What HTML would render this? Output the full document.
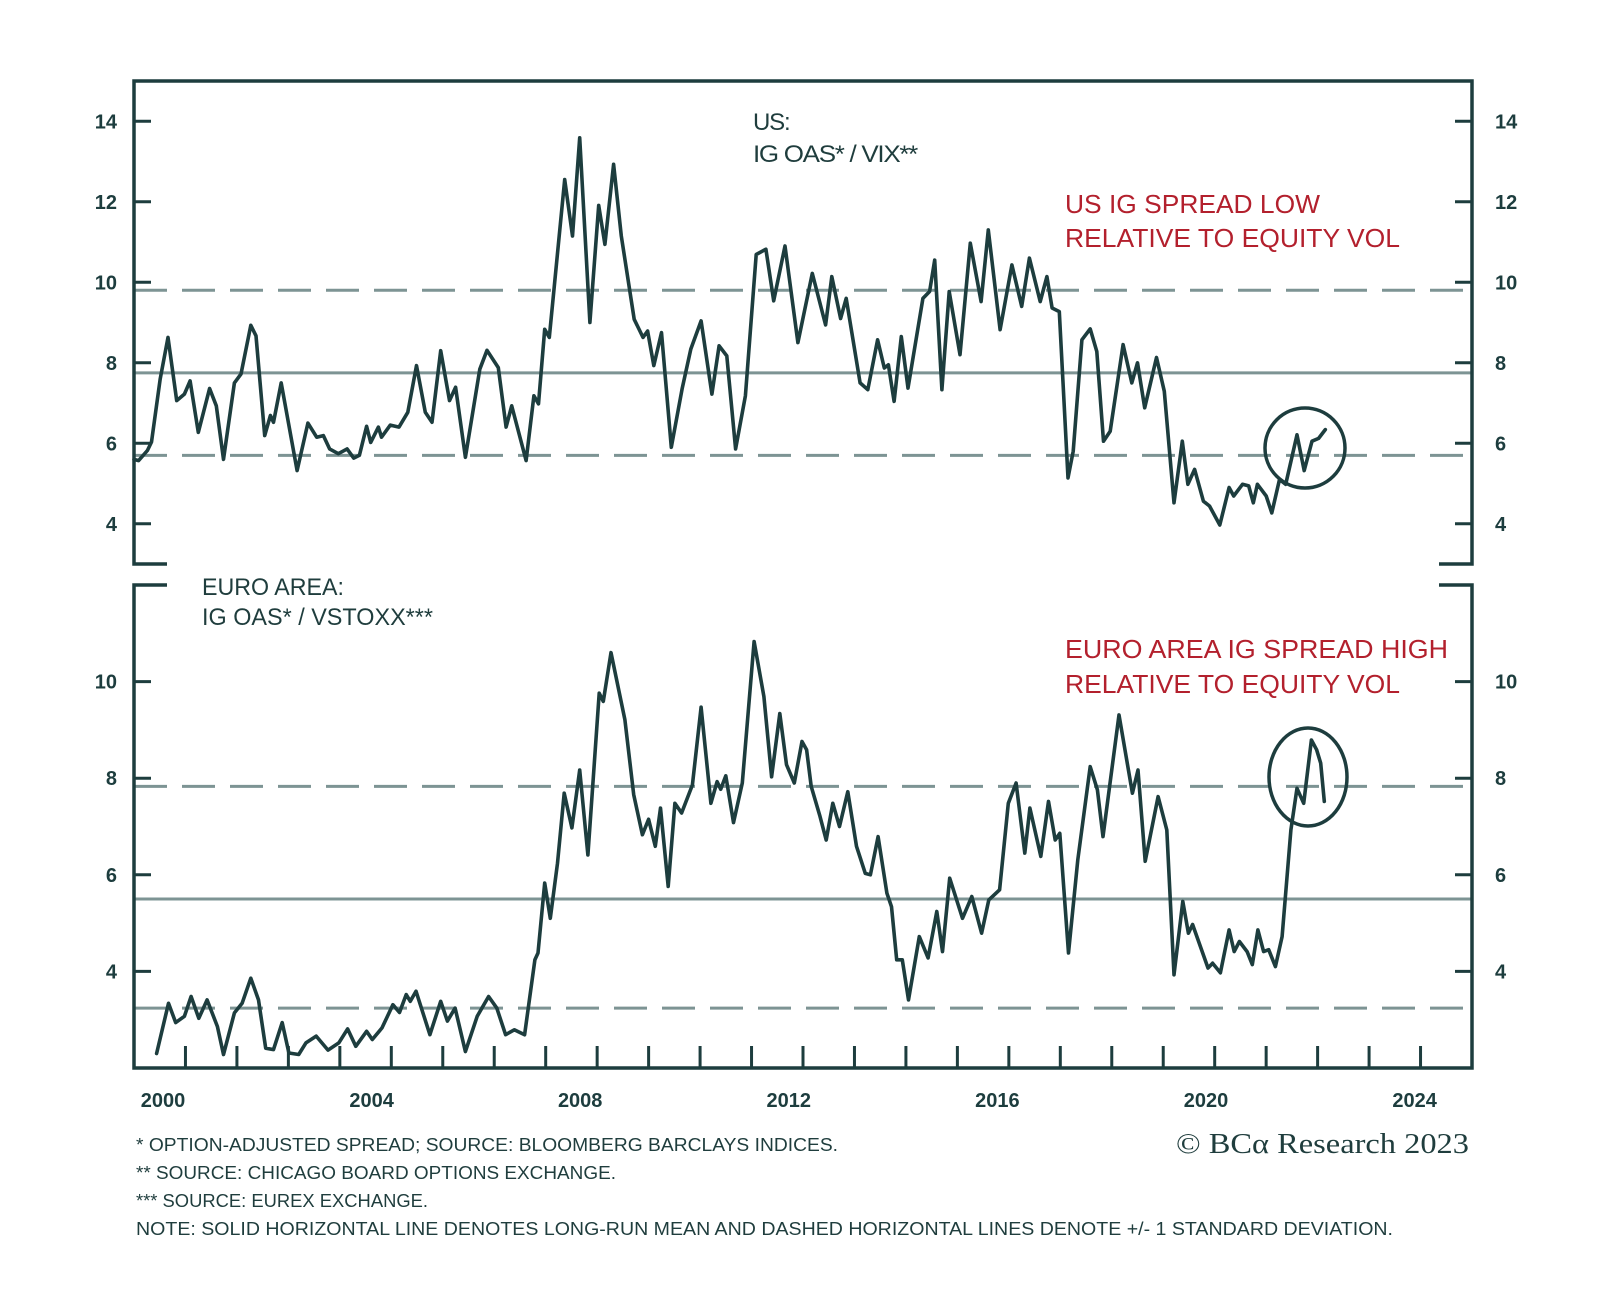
<!DOCTYPE html>
<html><head><meta charset="utf-8"><style>
html,body{margin:0;padding:0;background:#fff;}
svg{display:block;}
text{font-family:"Liberation Sans",sans-serif;}
</style></head><body>
<svg id="chart" width="1600" height="1298" viewBox="0 0 1600 1298" xmlns="http://www.w3.org/2000/svg">
<rect width="1600" height="1298" fill="#fff"/>
<g id="upper"></g>
<g id="lower"></g>
<g id="xaxis"></g>
<g fill="#1f3d3d" font-size="24" letter-spacing="-1.2">
<text x="753" y="130">US:</text>
<text x="753" y="162" textLength="164" lengthAdjust="spacingAndGlyphs">IG OAS* / VIX**</text>
</g>
<g fill="#b3202d" font-size="26">
<text x="1065" y="213" textLength="255" lengthAdjust="spacingAndGlyphs">US IG SPREAD LOW</text>
<text x="1065" y="247" textLength="335" lengthAdjust="spacingAndGlyphs">RELATIVE TO EQUITY VOL</text>
</g>
<g fill="#1f3d3d" font-size="24">
<text x="202" y="595" textLength="142" lengthAdjust="spacingAndGlyphs">EURO AREA:</text>
<text x="202" y="625" textLength="231" lengthAdjust="spacingAndGlyphs">IG OAS* / VSTOXX***</text>
</g>
<g fill="#b3202d" font-size="26">
<text x="1065" y="658" textLength="383" lengthAdjust="spacingAndGlyphs">EURO AREA IG SPREAD HIGH</text>
<text x="1065" y="693" textLength="335" lengthAdjust="spacingAndGlyphs">RELATIVE TO EQUITY VOL</text>
</g>
<g fill="#1f3d3d" font-size="18">
<text x="136" y="1151" textLength="702" lengthAdjust="spacingAndGlyphs">*  OPTION-ADJUSTED SPREAD; SOURCE: BLOOMBERG BARCLAYS INDICES.</text>
<text x="136" y="1179" textLength="480" lengthAdjust="spacingAndGlyphs">**  SOURCE: CHICAGO BOARD OPTIONS EXCHANGE.</text>
<text x="136" y="1207" textLength="292" lengthAdjust="spacingAndGlyphs">*** SOURCE: EUREX EXCHANGE.</text>
<text x="136" y="1235" textLength="1257" lengthAdjust="spacingAndGlyphs">NOTE: SOLID HORIZONTAL LINE DENOTES LONG-RUN MEAN AND DASHED HORIZONTAL LINES DENOTE +/- 1 STANDARD DEVIATION.</text>
</g>
<text x="1176" y="1153" style="font-family:'Liberation Serif',serif" font-size="29" fill="#1f3d3d" textLength="293" lengthAdjust="spacingAndGlyphs">© BCα Research 2023</text>
</svg>
<script>
// ---- data ----
const usYears=[2000.0,2000.09,2000.26,2000.34,2000.51,2000.66,2000.83,2000.98,2001.09,2001.25,2001.47,2001.6,2001.74,2001.95,2002.08,2002.27,2002.37,2002.54,2002.65,2002.71,2002.86,2003.17,2003.38,2003.55,2003.68,2003.8,2003.97,2004.14,2004.27,2004.38,2004.52,2004.6,2004.75,2004.81,2004.98,2005.15,2005.32,2005.49,2005.66,2005.79,2005.96,2006.13,2006.25,2006.44,2006.72,2006.86,2007.08,2007.23,2007.34,2007.62,2007.77,2007.86,2007.98,2008.07,2008.37,2008.52,2008.66,2008.86,2009.03,2009.15,2009.32,2009.47,2009.72,2009.89,2009.98,2010.1,2010.25,2010.44,2010.65,2010.82,2011.02,2011.23,2011.37,2011.52,2011.69,2011.88,2012.09,2012.28,2012.43,2012.65,2012.9,2013.18,2013.44,2013.56,2013.73,2013.84,2014.11,2014.26,2014.45,2014.58,2014.66,2014.77,2014.91,2015.04,2015.33,2015.46,2015.56,2015.7,2015.84,2016.05,2016.25,2016.46,2016.6,2016.83,2017.06,2017.25,2017.4,2017.61,2017.74,2017.84,2017.98,2018.15,2018.25,2018.42,2018.58,2018.71,2018.84,2018.97,2019.22,2019.39,2019.5,2019.64,2019.87,2020.02,2020.21,2020.37,2020.48,2020.61,2020.78,2020.9,2021.1,2021.28,2021.37,2021.54,2021.66,2021.75,2021.83,2022.0,2022.11,2022.26,2022.38,2022.6,2022.74,2022.89,2023.02,2023.15];
const usValues=[5.6,5.57,5.82,6.03,7.6,8.63,7.06,7.22,7.55,6.27,7.36,6.93,5.6,7.5,7.72,8.93,8.67,6.19,6.69,6.52,7.5,5.32,6.5,6.15,6.19,5.86,5.74,5.86,5.63,5.7,6.42,6.02,6.4,6.15,6.45,6.4,6.77,7.93,6.77,6.52,8.3,7.06,7.39,5.65,7.84,8.31,7.88,6.4,6.93,5.57,7.18,6.98,8.83,8.63,12.55,11.15,13.59,9.0,11.91,10.94,12.93,11.15,9.08,8.63,8.79,7.93,8.75,5.9,7.35,8.34,9.04,7.22,8.42,8.17,5.86,7.18,10.69,10.82,9.54,10.9,8.5,10.22,8.94,10.14,9.1,9.6,7.5,7.33,8.57,7.87,7.95,7.04,8.65,7.37,9.6,9.77,10.55,7.33,9.77,8.2,10.97,9.52,11.3,8.82,10.43,9.4,10.6,9.52,10.14,9.36,9.27,5.14,5.8,8.57,8.84,8.28,6.05,6.3,8.45,7.5,8.0,6.88,8.13,7.29,4.52,6.05,4.98,5.35,4.56,4.44,3.97,4.9,4.69,4.98,4.94,4.52,4.98,4.69,4.27,5.1,4.98,6.21,5.32,6.05,6.12,6.34];
const usRefs=[9.8,7.75,5.7];
const usTicks=[4,6,8,10,12,14];
const euYears=[2000.44,2000.67,2000.81,2000.98,2001.11,2001.26,2001.42,2001.62,2001.74,2001.95,2002.1,2002.27,2002.42,2002.56,2002.71,2002.88,2003.01,2003.2,2003.34,2003.54,2003.77,2003.98,2004.15,2004.31,2004.52,2004.63,2004.82,2005.03,2005.16,2005.29,2005.37,2005.48,2005.75,2005.96,2006.09,2006.24,2006.44,2006.67,2006.89,2007.05,2007.22,2007.39,2007.59,2007.79,2007.85,2007.98,2008.09,2008.23,2008.36,2008.51,2008.66,2008.82,2009.04,2009.12,2009.27,2009.54,2009.71,2009.88,2010.0,2010.13,2010.23,2010.38,2010.51,2010.64,2010.85,2011.02,2011.21,2011.33,2011.4,2011.5,2011.65,2011.82,2012.05,2012.24,2012.39,2012.55,2012.68,2012.83,2012.98,2013.07,2013.16,2013.33,2013.45,2013.58,2013.71,2013.87,2014.04,2014.21,2014.31,2014.46,2014.63,2014.72,2014.82,2014.93,2015.05,2015.26,2015.43,2015.6,2015.71,2015.85,2016.1,2016.28,2016.47,2016.61,2016.82,2016.99,2017.14,2017.31,2017.41,2017.62,2017.77,2017.9,2017.99,2018.16,2018.34,2018.58,2018.72,2018.83,2019.14,2019.4,2019.51,2019.65,2019.9,2020.07,2020.21,2020.38,2020.49,2020.57,2020.87,2020.96,2021.11,2021.28,2021.38,2021.48,2021.63,2021.73,2021.84,2021.95,2022.05,2022.18,2022.31,2022.48,2022.6,2022.73,2022.88,2022.98,2023.06,2023.13];
const euValues=[2.3,3.34,2.94,3.07,3.48,3.03,3.41,2.86,2.28,3.14,3.34,3.86,3.41,2.41,2.38,2.94,2.31,2.28,2.52,2.66,2.37,2.52,2.81,2.45,2.76,2.59,2.83,3.31,3.15,3.52,3.38,3.59,2.69,3.38,2.97,3.24,2.34,3.07,3.48,3.24,2.69,2.79,2.69,4.24,4.38,5.83,5.1,6.24,7.69,6.97,8.17,6.41,9.76,9.59,10.6,9.21,7.66,6.83,7.15,6.59,7.38,5.76,7.48,7.28,7.86,9.47,7.48,7.93,7.77,8.05,7.08,7.9,10.83,9.69,8.03,9.34,8.28,7.9,8.76,8.59,7.83,7.21,6.72,7.48,7.0,7.72,6.59,6.03,6.0,6.79,5.62,5.34,4.24,4.24,3.41,4.72,4.28,5.24,4.41,5.93,5.1,5.55,4.79,5.48,5.69,7.48,7.9,6.45,7.38,6.38,7.52,6.72,6.86,4.38,6.31,8.24,7.76,6.79,9.31,7.69,8.17,6.28,7.62,6.93,3.93,5.45,4.79,4.97,4.07,4.17,3.97,4.86,4.41,4.62,4.41,4.14,4.86,4.41,4.45,4.1,4.72,6.93,7.79,7.48,8.79,8.59,8.31,7.52];
const euRefs=[7.83,5.5,3.24];
const euTicks=[4,6,8,10];
const xLabels=[2000,2004,2008,2012,2016,2020,2024];

// ---- scales ----
const X0=134,X1=1472,Y0=2000,YR=26;
const xs=y=>X0+(y-Y0)*(X1-X0)/YR;
const usTop=81,usBot=564,usMin=3,usMax=15;
const euTop=585,euBot=1068,euMin=2,euMax=12;
const yU=v=>usBot-(v-usMin)*(usBot-usTop)/(usMax-usMin);
const yE=v=>euBot-(v-euMin)*(euBot-euTop)/(euMax-euMin);
const NS="http://www.w3.org/2000/svg";
const INK="#1d3d3e",GRID="#7d9494";
function mk(tag,attrs,parent){const e=document.createElementNS(NS,tag);for(const k in attrs)e.setAttribute(k,attrs[k]);parent.appendChild(e);return e;}

function panel(g,yf,top,bot,ticks,refs,years,vals,circle,isUpper,prefix){
  refs.forEach((r,i)=>{
    const l=mk('line',{x1:X0,x2:X1,y1:yf(r),y2:yf(r),stroke:GRID,'stroke-width':3,'stroke-dasharray':i===1?'none':'33 15'},g);
    
    
  });
  ticks.forEach(t=>{
    const y=yf(t);
    const a=mk('line',{x1:X0,x2:X0+17,y1:y,y2:y,stroke:INK,'stroke-width':3},g);
    
    
    const b=mk('line',{x1:X1-17,x2:X1,y1:y,y2:y,stroke:INK,'stroke-width':3},g);
    
    
    const t1=mk('text',{x:117,y:y+7,'text-anchor':'end','font-size':20,'font-weight':'bold',fill:INK},g);t1.textContent=t;
    
    
    const t2=mk('text',{x:1495,y:y+7,'font-size':20,'font-weight':'bold',fill:INK},g);t2.textContent=t;
    
    
  });
  let d;
  if(isUpper) d=`M167 ${bot} H${X0} V${top} H${X1} V${bot} H1439`;
  else d=`M167 ${top} H${X0} V${bot} H${X1} V${top} H1439`;
  const f=mk('path',{d:d,fill:'none',stroke:INK,'stroke-width':3.5},g);
  
  
  const pts=years.map((y,i)=>xs(y).toFixed(1)+','+yf(vals[i]).toFixed(1)).join(' ');
  const s=mk('polyline',{points:pts,fill:'none',stroke:INK,'stroke-width':3.6,'stroke-linejoin':'round','stroke-linecap':'round'},g);
  
  
  const c=mk('ellipse',{cx:circle[0],cy:circle[1],rx:circle[2],ry:circle[3],fill:'none',stroke:INK,'stroke-width':3.5},g);
  
  
}
panel(document.getElementById('upper'),yU,usTop,usBot,usTicks,usRefs,usYears,usValues,[1305,448,40,40],true,'us');
panel(document.getElementById('lower'),yE,euTop,euBot,euTicks,euRefs,euYears,euValues,[1308,777,39,49],false,'euro');

const gx=document.getElementById('xaxis');
for(let y=2001;y<=2025;y++){
  const t=mk('line',{x1:xs(y),x2:xs(y),y1:euBot,y2:euBot-22,stroke:INK,'stroke-width':3},gx);
  
  
}
xLabels.forEach(y=>{
  const t=mk('text',{x:163+(y-2000)/4*208.6,y:1107,'text-anchor':'middle','font-size':20,'font-weight':'bold',fill:INK},gx);
  t.textContent=y;
  
  
});
</script>
</body></html>
